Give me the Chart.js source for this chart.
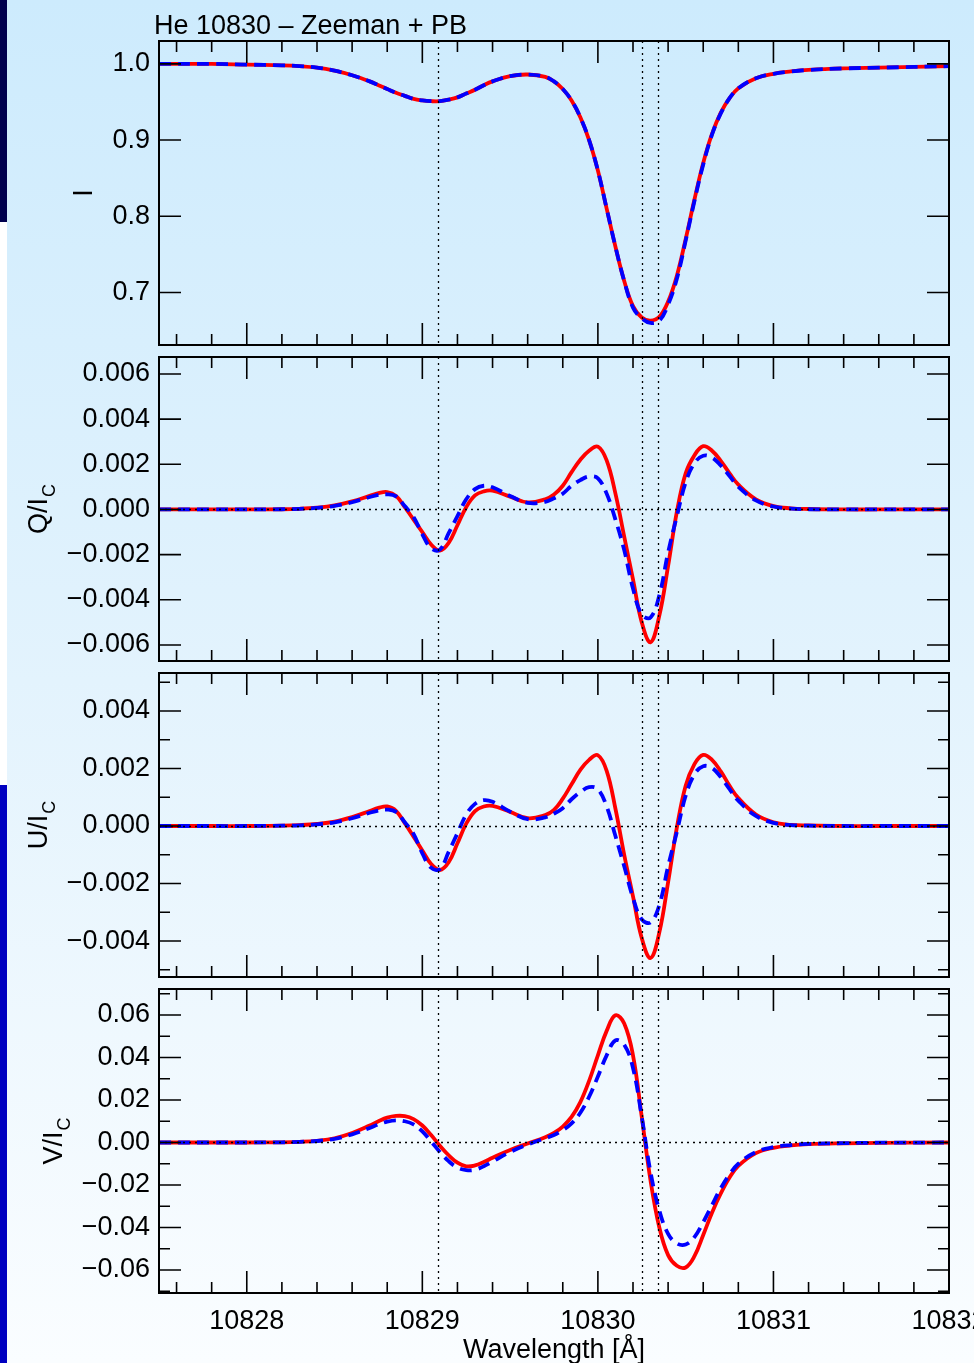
<!DOCTYPE html>
<html>
<head>
<meta charset="utf-8">
<title>He 10830 – Zeeman + PB</title>
<script src="https://cdn.jsdelivr.net/npm/chart.js@4.4.1/dist/chart.umd.min.js"></script>
<style>
  html, body { margin: 0; padding: 0; }
  body {
    width: 974px; height: 1363px; overflow: hidden; position: relative;
    background: linear-gradient(to bottom, #cdebfd 0%, #e3f3fd 50%, #fafdff 100%);
  }
  .strip { position: absolute; left: 0; width: 7px; }
  canvas { position: absolute; left: 0; }
</style>
</head>
<body>
<div class="strip" style="top:0;height:222px;background:#00004e"></div>
<div class="strip" style="top:222px;height:563px;background:#ffffff"></div>
<div class="strip" style="top:785px;height:578px;background:#0000c0"></div>
<canvas id="panelI"></canvas>
<canvas id="panelQ"></canvas>
<canvas id="panelU"></canvas>
<canvas id="panelV"></canvas>
<script>
// wavelength grid (Angstrom)
const wavelength = [10827.5, 10827.8, 10828.0, 10828.2, 10828.3, 10828.4, 10828.5, 10828.6, 10828.7, 10828.75,
  10828.8, 10828.85, 10828.9, 10828.95, 10829.0, 10829.05, 10829.1, 10829.15, 10829.2, 10829.25,
  10829.3, 10829.35, 10829.4, 10829.5, 10829.6, 10829.7, 10829.75, 10829.8, 10829.85, 10829.9,
  10829.95, 10830.0, 10830.05, 10830.1, 10830.15, 10830.2, 10830.25, 10830.3, 10830.35, 10830.4,
  10830.45, 10830.5, 10830.55, 10830.6, 10830.65, 10830.7, 10830.75, 10830.8, 10830.9, 10831.0,
  10831.1, 10831.2, 10831.4, 10831.6, 10832.0];

// He I triplet components marked with dotted lines
const lineCentres = [10829.09, 10830.25, 10830.34];

// Stokes profiles: solid (red) and dashed (blue)
const iSolid = [1.000, 1.000, 0.999, 0.998, 0.997, 0.995, 0.991, 0.985, 0.977, 0.972,
  0.967, 0.962, 0.958, 0.954, 0.952, 0.951, 0.951, 0.953, 0.956, 0.961,
  0.966, 0.972, 0.977, 0.984, 0.986, 0.983, 0.977, 0.967, 0.952, 0.930,
  0.900, 0.860, 0.810, 0.760, 0.715, 0.682, 0.667, 0.663, 0.668, 0.688,
  0.722, 0.770, 0.822, 0.870, 0.908, 0.936, 0.955, 0.968, 0.981, 0.987,
  0.990, 0.992, 0.994, 0.995, 0.997];
const iDashed = [1.000, 1.000, 0.999, 0.998, 0.997, 0.995, 0.991, 0.985, 0.977, 0.972,
  0.967, 0.962, 0.958, 0.954, 0.952, 0.951, 0.951, 0.953, 0.956, 0.961,
  0.966, 0.972, 0.977, 0.984, 0.986, 0.983, 0.977, 0.967, 0.952, 0.930,
  0.900, 0.860, 0.810, 0.760, 0.715, 0.680, 0.666, 0.660, 0.663, 0.684,
  0.718, 0.768, 0.820, 0.868, 0.907, 0.935, 0.955, 0.968, 0.981, 0.987,
  0.990, 0.992, 0.994, 0.995, 0.997];

const qSolid = [0, 0, 0, 0.00001, 0.00003, 0.00008, 0.00018, 0.00036, 0.00060, 0.00072,
  0.00077, 0.00060, 0.00010, -0.00045, -0.00100, -0.00155, -0.00182, -0.00148, -0.00070, 0.00010,
  0.00062, 0.00080, 0.00083, 0.00057, 0.00031, 0.00045, 0.00066, 0.00105, 0.00165, 0.00220,
  0.00260, 0.00278, 0.00217, 0.00070, -0.00120, -0.00310, -0.00500, -0.00588, -0.00470, -0.00250,
  -0.00010, 0.00160, 0.00240, 0.00280, 0.00260, 0.00215, 0.00160, 0.00110, 0.00045, 0.00015,
  0.00005, 0.00002, 0, 0, 0];
const qDashed = [0, 0, 0, 0.00001, 0.00003, 0.00007, 0.00016, 0.00032, 0.00055, 0.00064,
  0.00067, 0.00058, 0.00015, -0.00033, -0.00110, -0.00172, -0.00178, -0.00105, -0.00030, 0.00045,
  0.00090, 0.00105, 0.00098, 0.00060, 0.00029, 0.00034, 0.00050, 0.00070, 0.00105, 0.00130,
  0.00146, 0.00138, 0.00070, -0.00045, -0.00180, -0.00350, -0.00465, -0.00478, -0.00380, -0.00190,
  -0.00030, 0.00120, 0.00205, 0.00238, 0.00230, 0.00195, 0.00148, 0.00100, 0.00040, 0.00013,
  0.00004, 0.00001, 0, 0, 0];

const uSolid = [0, 0, 0, 0.00001, 0.00003, 0.00007, 0.00015, 0.00031, 0.00052, 0.00063,
  0.00068, 0.00053, 0.00010, -0.00037, -0.00085, -0.00132, -0.00153, -0.00126, -0.00060, 0.00008,
  0.00052, 0.00068, 0.00070, 0.00049, 0.00027, 0.00038, 0.00056, 0.00095, 0.00145, 0.00195,
  0.00230, 0.00246, 0.00192, 0.00060, -0.00100, -0.00245, -0.00390, -0.00459, -0.00370, -0.00195,
  -0.00005, 0.00140, 0.00215, 0.00247, 0.00230, 0.00190, 0.00140, 0.00097, 0.00040, 0.00013,
  0.00004, 0.00002, 0, 0, 0];
const uDashed = [0, 0, 0, 0.00001, 0.00002, 0.00006, 0.00013, 0.00027, 0.00046, 0.00054,
  0.00057, 0.00049, 0.00013, -0.00028, -0.00095, -0.00145, -0.00150, -0.00090, -0.00025, 0.00040,
  0.00077, 0.00090, 0.00084, 0.00050, 0.00024, 0.00030, 0.00043, 0.00062, 0.00093, 0.00118,
  0.00135, 0.00128, 0.00068, -0.00035, -0.00140, -0.00250, -0.00325, -0.00335, -0.00275, -0.00140,
  -0.00020, 0.00105, 0.00180, 0.00208, 0.00202, 0.00170, 0.00128, 0.00088, 0.00035, 0.00011,
  0.00003, 0.00001, 0, 0, 0];

const vSolid = [0, 0, 0, 0.0001, 0.0003, 0.0008, 0.0020, 0.0045, 0.0080, 0.0100,
  0.0117, 0.0125, 0.0124, 0.0110, 0.0080, 0.0035, -0.0015, -0.0060, -0.0095, -0.0112,
  -0.0108, -0.0092, -0.0072, -0.0035, -0.0005, 0.0025, 0.0045, 0.0075, 0.0120, 0.0190,
  0.0290, 0.0410, 0.0525, 0.0598, 0.0560, 0.0410, 0.0120, -0.0180, -0.0400, -0.0530,
  -0.0580, -0.0588, -0.0535, -0.0435, -0.0330, -0.0240, -0.0165, -0.0110, -0.0050, -0.0025,
  -0.0014, -0.0008, -0.0004, -0.0002, 0];
const vDashed = [0, 0, 0, 0.0001, 0.0003, 0.0007, 0.0017, 0.0038, 0.0068, 0.0085,
  0.0098, 0.0104, 0.0100, 0.0085, 0.0052, 0.0005, -0.0045, -0.0088, -0.0118, -0.0130,
  -0.0128, -0.0112, -0.0090, -0.0045, -0.0010, 0.0020, 0.0035, 0.0058, 0.0090, 0.0140,
  0.0215, 0.0310, 0.0410, 0.0480, 0.0460, 0.0350, 0.0120, -0.0140, -0.0320, -0.0430,
  -0.0475, -0.0480, -0.0445, -0.0375, -0.0295, -0.0215, -0.0150, -0.0100, -0.0045, -0.0022,
  -0.0012, -0.0007, -0.0003, -0.0001, 0];

const FONT = '"Liberation Sans", Arial, Helvetica, sans-serif';
const CANVAS_W = 1010;
const PLOT_LEFT = 159, PLOT_RIGHT = 949, PLOT_H = 304;
const X_MIN = 10827.5, X_MAX = 10832.0, X_MINOR = 0.2;

const toPoints = (xs, ys) => xs.map((x, i) => ({x: x, y: ys[i]}));
const minus = s => s.replace('-', '\u2212');

// frame, inward ticks on all four sides, dotted guides and axis titles
const axisFrame = {
  id: 'axisFrame',
  afterDatasetsDraw(chart, args, opts) {
    const {ctx, chartArea: a} = chart;
    const x = chart.scales.x, y = chart.scales.y;
    ctx.save();
    ctx.strokeStyle = '#000';

    ctx.lineWidth = 1.3;
    ctx.setLineDash([2, 4]);
    ctx.beginPath();
    lineCentres.forEach(w => {
      const px = Math.round(x.getPixelForValue(w)) + 0.5;
      ctx.moveTo(px, a.top); ctx.lineTo(px, a.bottom);
    });
    if (opts.zeroLine) {
      const py = Math.round(y.getPixelForValue(0)) + 0.5;
      ctx.moveTo(a.left, py); ctx.lineTo(a.right, py);
    }
    ctx.stroke();
    ctx.setLineDash([]);

    ctx.lineWidth = 1.6;
    ctx.beginPath();
    const xTick = (v, len) => {
      const px = x.getPixelForValue(v);
      ctx.moveTo(px, a.bottom); ctx.lineTo(px, a.bottom - len);
      ctx.moveTo(px, a.top); ctx.lineTo(px, a.top + len);
    };
    const yTick = (v, len) => {
      const py = y.getPixelForValue(v);
      ctx.moveTo(a.left, py); ctx.lineTo(a.left + len, py);
      ctx.moveTo(a.right, py); ctx.lineTo(a.right - len, py);
    };
    for (let k = Math.ceil(x.min / X_MINOR - 1e-6); k * X_MINOR <= x.max + 1e-6; k++) {
      const v = k * X_MINOR;
      const major = Math.abs(v - Math.round(v)) < 1e-6;
      xTick(v, major ? 22 : 11);
    }
    y.ticks.forEach(t => yTick(t.value, 22));
    if (opts.yMinor) {
      const step = opts.yMinor, majorStep = opts.yStep;
      for (let k = Math.ceil(y.min / step); k * step <= y.max; k++) {
        const v = k * step;
        if (Math.abs(v / majorStep - Math.round(v / majorStep)) > 1e-6) yTick(v, 11);
      }
    }
    ctx.stroke();

    ctx.lineWidth = 2;
    ctx.strokeRect(a.left, a.top, a.right - a.left, a.bottom - a.top);

    // y title, placed left of the widest tick label
    ctx.fillStyle = '#000';
    ctx.font = '27px ' + FONT;
    const widest = Math.max(...y.ticks.map(t => ctx.measureText(t.label).width));
    const baseX = a.left - 9 - widest - 20;
    const mainW = ctx.measureText(opts.title).width;
    ctx.font = '18px ' + FONT;
    const subW = opts.sub ? ctx.measureText(opts.sub).width + 1 : 0;
    ctx.save();
    ctx.translate(baseX, (a.top + a.bottom) / 2);
    ctx.rotate(-Math.PI / 2);
    ctx.textBaseline = 'alphabetic';
    ctx.textAlign = 'left';
    const start = -(mainW + subW) / 2;
    ctx.font = '27px ' + FONT;
    ctx.fillText(opts.title, start, 0);
    if (opts.sub) {
      ctx.font = '18px ' + FONT;
      ctx.fillText(opts.sub, start + mainW + 1, 8);
    }
    ctx.restore();

    if (opts.heading) {
      ctx.font = '27px ' + FONT;
      ctx.textAlign = 'left';
      ctx.textBaseline = 'alphabetic';
      ctx.fillText(opts.heading, a.left - 5, a.top - 7);
    }
    ctx.restore();
  }
};

function makePanel(id, cfg) {
  const canvas = document.getElementById(id);
  const padTop = cfg.padTop, padBottom = cfg.bottomAxis ? 0 : 30;
  const xHeight = cfg.bottomAxis ? 70 : 0;
  const height = padTop + PLOT_H + padBottom + xHeight;
  canvas.width = CANVAS_W; canvas.height = height;
  canvas.style.width = CANVAS_W + 'px'; canvas.style.height = height + 'px';
  canvas.style.top = (cfg.plotTop - padTop) + 'px';

  return new Chart(canvas, {
    type: 'line',
    data: {
      datasets: [{
        data: toPoints(wavelength, cfg.dashed),
        borderColor: '#0000ff',
        borderWidth: 3.8,
        borderDash: [12, 7],
        order: 0
      }, {
        data: toPoints(wavelength, cfg.solid),
        borderColor: '#ff0000',
        borderWidth: 3.8,
        order: 1
      }]
    },
    options: {
      responsive: false,
      animation: false,
      devicePixelRatio: 1,
      layout: { padding: { left: 0, right: CANVAS_W - PLOT_RIGHT, top: padTop, bottom: padBottom } },
      elements: {
        point: { radius: 0 },
        line: { tension: 0.4, fill: false }
      },
      plugins: {
        legend: { display: false },
        tooltip: { enabled: false },
        axisFrame: {
          title: cfg.title, sub: cfg.sub, heading: cfg.heading,
          zeroLine: cfg.zeroLine, yStep: cfg.yStep, yMinor: cfg.yMinor
        }
      },
      scales: {
        x: {
          type: 'linear',
          min: X_MIN, max: X_MAX,
          display: !!cfg.bottomAxis,
          grid: { display: false, drawTicks: false },
          border: { display: false },
          ticks: {
            stepSize: 1, includeBounds: false, autoSkip: false, maxRotation: 0,
            padding: 12, color: '#000', font: { family: FONT, size: 27 },
            callback: v => v.toFixed(0)
          },
          title: {
            display: !!cfg.bottomAxis, text: 'Wavelength [\u00c5]', color: '#000',
            font: { family: FONT, size: 27 }, padding: { top: 0, bottom: -4 }
          },
          afterFit: s => { s.height = xHeight; }
        },
        y: {
          type: 'linear',
          min: cfg.yMin, max: cfg.yMax,
          grid: { display: false, drawTicks: false },
          border: { display: false },
          ticks: {
            stepSize: cfg.yStep, includeBounds: false, padding: 9, color: '#000',
            font: { family: FONT, size: 27 },
            callback: v => minus((Math.abs(v) < 1e-12 ? 0 : v).toFixed(cfg.decimals))
          },
          afterFit: s => { s.width = PLOT_LEFT; }
        }
      }
    },
    plugins: [axisFrame]
  });
}

makePanel('panelI', {
  plotTop: 41, padTop: 41, solid: iSolid, dashed: iDashed,
  yMin: 0.631, yMax: 1.030, yStep: 0.1, decimals: 1,
  title: 'I', heading: 'He 10830 \u2013 Zeeman + PB'
});
makePanel('panelQ', {
  plotTop: 357, padTop: 30, solid: qSolid, dashed: qDashed,
  yMin: -0.00671, yMax: 0.00675, yStep: 0.002, decimals: 3,
  title: 'Q/I', sub: 'C', zeroLine: true
});
makePanel('panelU', {
  plotTop: 673, padTop: 30, solid: uSolid, dashed: uDashed,
  yMin: -0.00525, yMax: 0.00532, yStep: 0.002, yMinor: 0.001, decimals: 3,
  title: 'U/I', sub: 'C', zeroLine: true
});
makePanel('panelV', {
  plotTop: 989, padTop: 30, solid: vSolid, dashed: vDashed,
  yMin: -0.0708, yMax: 0.0722, yStep: 0.02, yMinor: 0.01, decimals: 2,
  title: 'V/I', sub: 'C', zeroLine: true, bottomAxis: true
});
</script>
</body>
</html>
